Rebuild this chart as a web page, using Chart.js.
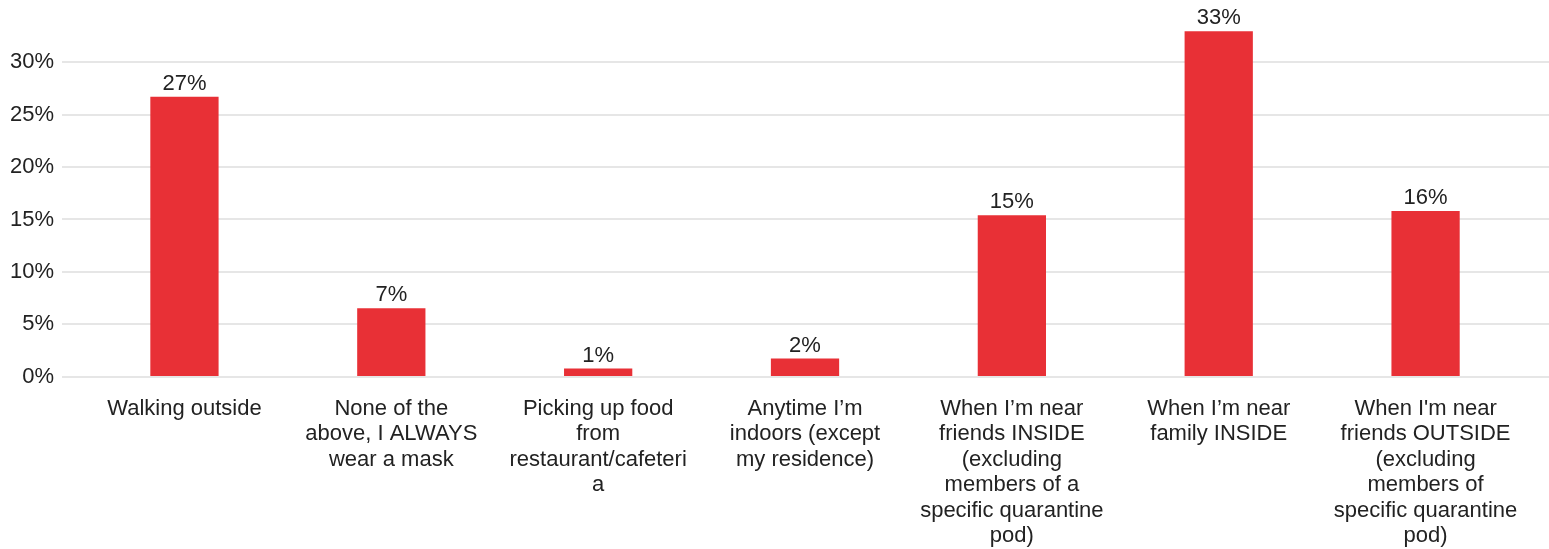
<!DOCTYPE html>
<html>
<head>
<meta charset="utf-8">
<script src="https://cdn.jsdelivr.net/npm/chart.js@4"></script>
<style>
  html, body { margin: 0; padding: 0; background: #fff; }
  #wrap { width: 1549px; height: 549px; }
</style>
</head>
<body>
<div id="wrap"><canvas id="mask-chart"></canvas></div>
<script>
// Categories (multi-line, wrapped as in the survey chart)
const categories = [
    ['Walking outside'],
    ['None of the', 'above, I ALWAYS', 'wear a mask'],
    ['Picking up food', 'from', 'restaurant/cafeteri', 'a'],
    ['Anytime I\u2019m', 'indoors (except', 'my residence)'],
    ['When I\u2019m near', 'friends INSIDE', '(excluding', 'members of a', 'specific quarantine', 'pod)'],
    ['When I\u2019m near', 'family INSIDE'],
    ['When I\'m near', 'friends OUTSIDE', '(excluding', 'members of', 'specific quarantine', 'pod)']
];

// Share of respondents (%)
const shares = [26.7, 6.55, 0.8, 1.75, 15.4, 32.95, 15.8];

// Y axis ticks
const yTicks = [0, 5, 10, 15, 20, 25, 30];

const barColor = '#e83036';
const textColor = '#222222';
const gridColor = '#e6e6e6';
const baseFont = "'Liberation Sans', Arial, Helvetica, sans-serif";

// Simple plugin to write the rounded value above each bar
const valueLabels = {
    id: 'valueLabels',
    afterDatasetsDraw(chart) {
        const ctx = chart.ctx;
        const meta = chart.getDatasetMeta(0);
        ctx.save();
        ctx.font = '22px ' + baseFont;
        ctx.fillStyle = textColor;
        ctx.textAlign = 'center';
        ctx.textBaseline = 'bottom';
        meta.data.forEach((bar, i) => {
            const v = chart.data.datasets[0].data[i];
            ctx.fillText(Math.round(v) + '%', bar.x, bar.y - 2);
        });
        ctx.restore();
    }
};

const ctx = document.getElementById('mask-chart').getContext('2d');
const myChart = new Chart(ctx, {
    type: 'bar',
    data: {
        labels: categories,
        datasets: [{
            data: shares,
            backgroundColor: barColor,
            borderWidth: 0,
            barPercentage: 0.33,
            categoryPercentage: 1
        }]
    },
    options: {
        responsive: true,
        maintainAspectRatio: false,
        animation: false,
        layout: { padding: { left: 2, top: 7, right: 0, bottom: -19 } },
        plugins: {
            legend: { display: false },
            tooltip: { enabled: false }
        },
        scales: {
            x: {
                grid: { display: false, drawTicks: false },
                border: { display: false },
                ticks: {
                    color: textColor,
                    padding: 19,
                    maxRotation: 0,
                    autoSkip: false,
                    font: { family: baseFont, size: 22, lineHeight: 1.16 }
                }
            },
            y: {
                min: 0,
                max: 33.9,
                afterBuildTicks: (axis) => { axis.ticks = yTicks.map(v => ({ value: v })); },
                grid: { color: gridColor, lineWidth: 2, tickLength: 19, tickColor: gridColor },
                border: { display: false },
                ticks: {
                    color: textColor,
                    padding: 8,
                    font: { family: baseFont, size: 22 },
                    callback: (v) => v + '%'
                }
            },
            yRight: {
                position: 'right',
                min: 0,
                max: 33.9,
                afterBuildTicks: (axis) => { axis.ticks = yTicks.map(v => ({ value: v })); },
                grid: { color: gridColor, lineWidth: 2, tickLength: 20, tickColor: gridColor, drawOnChartArea: false },
                border: { display: false },
                ticks: { display: false }
            }
        }
    },
    plugins: [valueLabels]
});
</script>
</body>
</html>
